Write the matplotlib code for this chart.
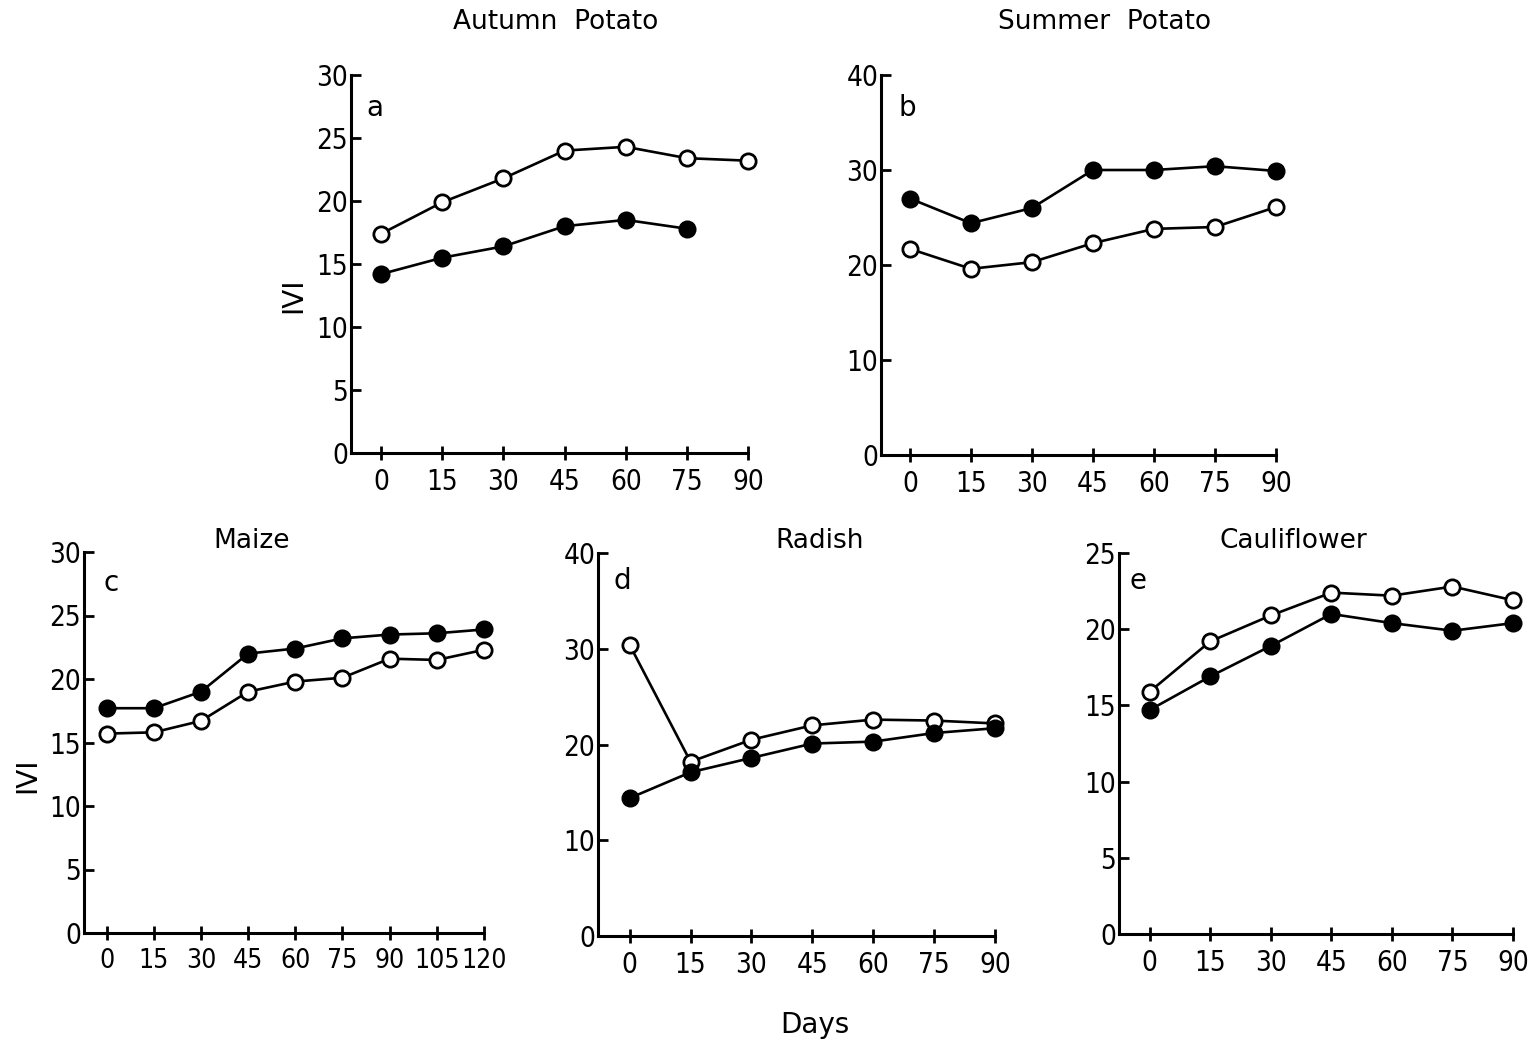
import numpy as np
import matplotlib
matplotlib.use("Agg")
import matplotlib.pyplot as plt

# ---------------------------------------------------
# data (IVI vs days)
# ---------------------------------------------------
days_a = [0, 15, 30, 45, 60, 75, 90]
a_open = [17.4, 19.9, 21.8, 24.0, 24.3, 23.4, 23.2]
a_fill = [14.2, 15.5, 16.4, 18.0, 18.5, 17.8]

days_b = [0, 15, 30, 45, 60, 75, 90]
b_fill = [27.0, 24.4, 26.0, 30.0, 30.0, 30.4, 29.9]
b_open = [21.7, 19.6, 20.3, 22.3, 23.8, 24.0, 26.1]

days_c = [0, 15, 30, 45, 60, 75, 90, 105, 120]
c_fill = [17.7, 17.7, 19.0, 22.0, 22.4, 23.2, 23.5, 23.6, 23.9]
c_open = [15.7, 15.8, 16.7, 19.0, 19.8, 20.1, 21.6, 21.5, 22.3]

days_d = [0, 15, 30, 45, 60, 75, 90]
d_open = [30.4, 18.2, 20.5, 22.0, 22.6, 22.5, 22.2]
d_fill = [14.4, 17.1, 18.6, 20.1, 20.3, 21.2, 21.7]

days_e = [0, 15, 30, 45, 60, 75, 90]
e_open = [15.9, 19.2, 20.9, 22.4, 22.2, 22.8, 21.9]
e_fill = [14.7, 16.9, 18.9, 21.0, 20.4, 19.9, 20.4]

titles = ["Autumn  Potato", "Summer  Potato", "Maize", "Radish", "Cauliflower"]
letters = ["a", "b", "c", "d", "e"]

W, H = 1534, 1040
fig = plt.figure(figsize=(W / 100, H / 100), dpi=100)

def px_axes(x0, x1, ytop, ybot):
    return fig.add_axes([x0 / W, 1 - ybot / H, (x1 - x0) / W, (ybot - ytop) / H])

def setup(ax, xticks, ymax, ystep, xleft, xsize=20):
    ax.set_xlim(xleft, xticks[-1])
    ax.set_ylim(0, ymax)
    ax.set_xticks(xticks)
    ax.set_yticks(np.arange(0, ymax + 0.1, ystep))
    for s in ["top", "right"]:
        ax.spines[s].set_visible(False)
    for s in ["left", "bottom"]:
        ax.spines[s].set_linewidth(2.2)
    ax.tick_params(axis="y", direction="in", length=7, width=2, labelsize=20, pad=2)
    ax.tick_params(axis="x", direction="inout", length=10, width=2, labelsize=xsize, pad=6)
    for lab in ax.get_xticklabels() + ax.get_yticklabels():
        lab.set_fontstretch("condensed")
    ax.patch.set_alpha(0)

def draw(ax, xs, ys, filled):
    ax.plot(xs[:len(ys)], ys, color="black", lw=1.9, marker="o", ms=11,
            mfc="black" if filled else "white", mec="black", mew=2, clip_on=False, zorder=3)

# panel a
ax = px_axes(351, 748, 75, 453)
setup(ax, days_a, 30, 5, -7.4)
draw(ax, days_a, a_open, False)
draw(ax, days_a, a_fill, True)

# panel b
ax = px_axes(881, 1276, 75, 455)
setup(ax, days_b, 40, 10, -7.1)
draw(ax, days_b, b_fill, True)
draw(ax, days_b, b_open, False)

# panel c
ax = px_axes(84, 484, 552, 933)
setup(ax, days_c, 30, 5, -7.2, xsize=19)
draw(ax, days_c, c_fill, True)
draw(ax, days_c, c_open, False)

# panel d
ax = px_axes(598, 995, 553, 936)
setup(ax, days_d, 40, 10, -7.8)
draw(ax, days_d, d_open, False)
draw(ax, days_d, d_fill, True)

# panel e
ax = px_axes(1119, 1513, 553, 934)
setup(ax, days_e, 25, 5, -7.6)
draw(ax, days_e, e_open, False)
draw(ax, days_e, e_fill, True)

# titles, letters and labels
title_pos = [(556, 22), (1105, 22), (252, 541), (820, 541), (1293, 541)]
for t, (x, y) in zip(titles, title_pos):
    fig.text(x / W, 1 - y / H, t, ha="center", va="center", fontsize=19)

letter_pos = [(375, 108), (907, 108), (111, 583), (622, 581), (1138, 581)]
for l, (x, y) in zip(letters, letter_pos):
    fig.text(x / W, 1 - y / H, l, ha="center", va="center", fontsize=20)

fig.text(293 / W, 1 - 295 / H, "IVI", rotation=90, ha="center", va="center", fontsize=20)
fig.text(27 / W, 1 - 775 / H, "IVI", rotation=90, ha="center", va="center", fontsize=20)
fig.text(815 / W, 1 - 1025 / H, "Days", ha="center", va="center", fontsize=20)

fig.savefig("out.png", dpi=100)
